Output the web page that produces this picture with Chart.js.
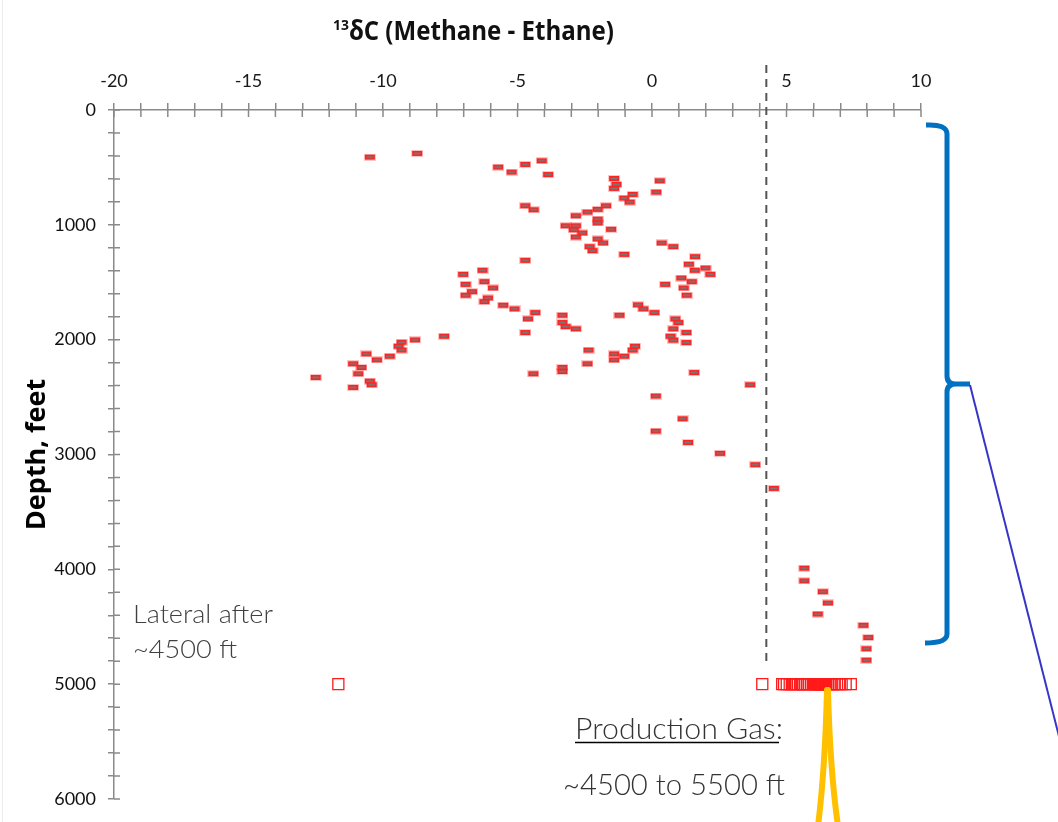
<!DOCTYPE html>
<html>
<head>
<meta charset="utf-8">
<script src="https://cdn.jsdelivr.net/npm/chart.js@4.4.1/dist/chart.umd.min.js"></script>
<style>
body { margin: 0; background: #fff; }
#wrap { position: relative; width: 1058px; height: 822px; overflow: hidden; }
#wrap canvas, #wrap svg { position: absolute; left: 0; top: 0; }
</style>
</head>
<body>
<div id="wrap">
<canvas id="chart" width="1058" height="822"></canvas>
<svg width="1058" height="822" xmlns="http://www.w3.org/2000/svg">
  <line x1="2.5" y1="0" x2="2.5" y2="822" stroke="#ececec" stroke-width="1"/>
  <text x="333" y="40" font-family="Open Sans" font-weight="bold" font-size="26" fill="#111" textLength="281" lengthAdjust="spacingAndGlyphs"><tspan font-size="15" dy="-10">13</tspan><tspan dy="10">δC (Methane - Ethane)</tspan></text>
  <text x="133" y="623" font-family="Lato" font-weight="300" font-size="26" fill="#404040" textLength="140" lengthAdjust="spacingAndGlyphs">Lateral after</text>
  <text x="133" y="658" font-family="Lato" font-weight="300" font-size="26" fill="#404040" textLength="104" lengthAdjust="spacingAndGlyphs">~4500 ft</text>
  <text x="575" y="739" font-family="Lato" font-weight="300" font-size="29" fill="#333" textLength="208" lengthAdjust="spacingAndGlyphs">Production Gas:</text>
  <line x1="575" y1="742.5" x2="779" y2="742.5" stroke="#000" stroke-width="1.5"/>
  <text x="563" y="795" font-family="Lato" font-weight="300" font-size="29" fill="#333" textLength="222" lengthAdjust="spacingAndGlyphs">~4500 to 5500 ft</text>
  <path d="M926 125 Q947 124 947 134 L947 376 Q947 384 956 384 L970 384 M956 384 Q947 384 947 392 L947 634 Q947 643 925 643" fill="none" stroke="#0070c0" stroke-width="5"/>
  <line x1="970" y1="385" x2="1068" y2="772" stroke="#3535c8" stroke-width="2"/>
  <path d="M827 690 Q825 770 818 826" fill="none" stroke="#ffc000" stroke-width="6" stroke-linecap="round"/>
  <path d="M828 690 Q830 770 838 826" fill="none" stroke="#ffc000" stroke-width="6" stroke-linecap="round"/>
</svg>
</div>
<script>
// mud gas samples: delta 13C (methane - ethane) vs depth
const sampleDelta = [
  -10.49, -8.73, -5.72, -5.22, -4.71, -4.10, -3.86, -4.71, -4.40, -4.71,
  -7.02, -6.30, -6.93, -6.23, -5.91, -6.69, -6.93, -6.10, -6.23, -5.53,
  -5.11, -4.34, -4.61, -4.71, -4.41, -7.73, -8.81, -9.31, -9.42, -9.31,
  -9.75, -10.23, -10.62, -11.11, -10.80, -10.92, -12.50, -10.49, -10.42, -11.11,
  -1.41, -1.32, -1.41, 0.29, 0.16, -0.72, -1.03, -0.83, -1.71, -2.02,
  -2.40, -2.83, -2.02, -2.02, -3.21, -2.83, -2.91, -2.59, -2.83, -1.52,
  -2.02, -1.82, -2.32, -2.21, -1.03, 0.36, 0.79, 1.60, 1.37, 1.59,
  1.99, 2.17, 1.09, 1.48, 1.18, 1.29, 0.49,
  -3.33, -3.33, -3.21, -2.83, -2.36, -1.41, -1.41, -1.03, -0.72, -0.63,
  -2.40, -3.33, -3.33, -1.21, -0.52, -0.32, 0.09, 0.87, 0.98, 0.79,
  1.28, 0.69, 0.79, 1.28, 1.57, 0.14, 1.14, 0.14, 1.34, 2.53,
  3.65, 3.84, 4.53,
  5.66, 5.66, 6.35, 6.54, 6.16, 7.86, 8.04, 7.97, 7.97
];
const sampleDepth = [
  410, 378, 497, 541, 474, 442, 562, 834, 869, 1309,
  1431, 1396, 1518, 1495, 1550, 1582, 1613, 1637, 1669, 1700,
  1732, 1764, 1819, 1938, 2297, 1970, 2002, 2022, 2057, 2091,
  2144, 2176, 2124, 2210, 2242, 2297, 2329, 2361, 2393, 2416,
  596, 648, 683, 617, 715, 735, 767, 802, 834, 865,
  889, 921, 950, 984, 1008, 1008, 1043, 1071, 1106, 1039,
  1123, 1158, 1190, 1225, 1257, 1158, 1190, 1277, 1343, 1396,
  1376, 1431, 1463, 1495, 1550, 1613, 1518,
  1787, 1851, 1886, 1906, 2091, 2124, 2176, 2144, 2091, 2057,
  2210, 2242, 2277, 1787, 1697, 1732, 1764, 1819, 1851, 1906,
  1938, 1970, 2004, 2025, 2286, 2491, 2689, 2796, 2895, 2990,
  2393, 3089, 3295,
  3990, 4100, 4195, 4293, 4389, 4487, 4594, 4692, 4791
];

// production gas samples, all plotted at 5000 ft
const prodDelta = [
  -11.66, 4.10,
  4.84, 4.91, 5.01, 5.12, 5.20, 5.27, 5.35, 5.42, 5.50, 5.57,
  5.61, 5.68, 5.76, 5.83, 5.91, 5.99,
  6.06, 6.09, 6.13, 6.17, 6.21, 6.24, 6.28, 6.32, 6.35, 6.39, 6.43,
  6.48, 6.55, 6.63, 6.70, 6.78, 6.88, 6.96, 7.05, 7.20, 7.39
];
const prodDepth = 5000;

// dashed cutoff line
const cutoffDelta = 4.25;
const cutoffDepth = [-392, 4815];

const xTicks = { min: -20, max: 10, minor: 1, major: 5 };
const yTicks = { min: 0, max: 6000, minor: 200, major: 1000 };

const axisGray = '#8a8a8a';

// little gray bar with red rim, like the excel marker
const marker = document.createElement('canvas');
marker.width = 12;
marker.height = 7;
const mctx = marker.getContext('2d');
mctx.fillStyle = 'rgba(255,60,60,0.3)';
mctx.fillRect(0, 0, 12, 7);
mctx.fillStyle = '#ff2020';
mctx.fillRect(1, 1, 10, 5);
mctx.fillStyle = '#787878';
mctx.fillRect(2.5, 2.5, 7, 2);

// tick marks on the inner side of the axes too
const innerTicks = {
  id: 'innerTicks',
  beforeDatasetsDraw(chart) {
    const ctx = chart.ctx;
    const xs = chart.scales.x;
    const ys = chart.scales.y;
    ctx.save();
    ctx.strokeStyle = axisGray;
    ctx.lineWidth = 1.5;
    ctx.beginPath();
    xs.ticks.forEach(t => {
      const px = xs.getPixelForValue(t.value);
      ctx.moveTo(px, xs.bottom);
      ctx.lineTo(px, xs.bottom + 7);
    });
    ys.ticks.forEach(t => {
      const py = ys.getPixelForValue(t.value);
      ctx.moveTo(ys.right, py);
      ctx.lineTo(ys.right + 6, py);
    });
    ctx.stroke();
    ctx.restore();
  }
};

new Chart(document.getElementById('chart'), {
  type: 'scatter',
  data: {
    datasets: [
      {
        label: 'Mud gas',
        data: sampleDelta.map((d, i) => ({x: d, y: sampleDepth[i]})),
        pointStyle: marker,
        pointRadius: 6
      },
      {
        label: 'Production gas',
        data: prodDelta.map(d => ({x: d, y: prodDepth})),
        pointStyle: 'rect',
        pointRadius: 7.8,
        borderColor: '#ff1a1a',
        borderWidth: 1.3,
        backgroundColor: 'rgba(0,0,0,0)'
      },
      {
        label: 'Cutoff',
        type: 'line',
        data: cutoffDepth.map(d => ({x: cutoffDelta, y: d})),
        borderColor: '#555',
        borderWidth: 2,
        borderDash: [8, 6],
        pointRadius: 0,
        clip: false
      }
    ]
  },
  options: {
    responsive: false,
    animation: false,
    events: [],
    layout: {padding: {left: 0, top: 0, right: 137, bottom: 23}},
    plugins: {legend: {display: false}, tooltip: {enabled: false}},
    scales: {
      x: {
        type: 'linear',
        position: 'top',
        min: xTicks.min,
        max: xTicks.max,
        afterFit: s => { s.height = 110; },
        ticks: {
          stepSize: xTicks.minor,
          autoSkip: false,
          maxRotation: 0,
          padding: 11,
          color: '#1a1a1a',
          font: {family: 'Lato', size: 18},
          callback: v => v % xTicks.major === 0 ? String(v) : ''
        },
        grid: {drawOnChartArea: false, tickLength: 7, color: axisGray, lineWidth: 1.5},
        border: {color: axisGray, width: 1.5}
      },
      y: {
        type: 'linear',
        reverse: true,
        min: yTicks.min,
        max: yTicks.max,
        afterFit: s => { s.width = 114; },
        ticks: {
          stepSize: yTicks.minor,
          autoSkip: false,
          padding: 12,
          color: '#111',
          font: {family: 'Lato', size: 18},
          callback: v => v % yTicks.major === 0 ? String(v) : ''
        },
        title: {
          display: true,
          text: 'Depth, feet',
          color: '#000',
          font: {family: 'Open Sans', weight: 'bold', size: 27},
          padding: {top: 21, bottom: 0}
        },
        grid: {drawOnChartArea: false, tickLength: 6, color: axisGray, lineWidth: 1.5},
        border: {color: axisGray, width: 1.5}
      }
    }
  },
  plugins: [innerTicks]
});
</script>
</body>
</html>
